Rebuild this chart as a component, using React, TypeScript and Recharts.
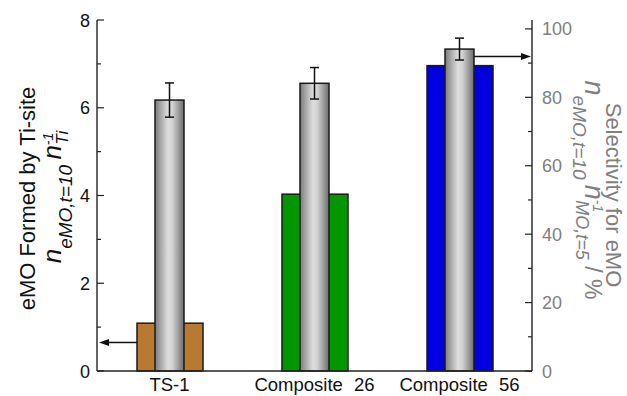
import React from 'react';
import { ComposedChart, Bar, XAxis, YAxis, ErrorBar } from 'recharts';

const categories = ['TS-1', 'Composite 26', 'Composite 56'];
const eMOPerTiSite = [1.09, 4.03, 6.96];
const selectivity = [79.2, 84.1, 94.1];
const selectivityError = [5.0, 4.6, 3.2];
const barColors = ['#B77A30', '#009700', '#0000E2'];
const leftTicks = [0, 1, 2, 3, 4, 5, 6, 7, 8];
const leftMajorTicks = [0, 2, 4, 6, 8];
const rightTicks = [0, 10, 20, 30, 40, 50, 60, 70, 80, 90, 100];
const rightMajorTicks = [0, 20, 40, 60, 80, 100];
const leftArrowValue = 0.65;
const rightArrowValue = 91.9;

const FONT = "'Liberation Sans', Arial, Helvetica, sans-serif";
const GRAY_TEXT = '#808080';

const data = categories.map((c, i) => ({
  category: c,
  eMO: eMOPerTiSite[i],
  sel: selectivity[i],
  selErr: selectivityError[i],
  color: barColors[i],
}));

const LEFT_MARGIN = 7;
const RIGHT_MARGIN = 10;

const LeftTick = (props: any) => {
  const { x, y, payload } = props;
  const axisX = x + LEFT_MARGIN;
  const major = leftMajorTicks.includes(payload.value);
  return (
    <g>
      <line x1={axisX} x2={axisX + (major ? 7 : 4)} y1={y} y2={y} stroke="#222" strokeWidth={1.2} />
      {major && (
        <text x={x} y={y + 6.5} textAnchor="end" fontSize={18} fontFamily={FONT} fill="#111">
          {payload.value}
        </text>
      )}
    </g>
  );
};

const RightTick = (props: any) => {
  const { x, y, payload } = props;
  const axisX = x - RIGHT_MARGIN;
  const major = rightMajorTicks.includes(payload.value);
  return (
    <g>
      <line x1={axisX} x2={axisX - (major ? 7 : 4)} y1={y} y2={y} stroke="#222" strokeWidth={1.2} />
      {major && (
        <text x={x} y={y + 6.5} textAnchor="start" fontSize={18} fontFamily={FONT} fill={GRAY_TEXT}>
          {payload.value}
        </text>
      )}
    </g>
  );
};

const BottomTick = (props: any) => {
  const { x, y, payload } = props;
  return (
    <text x={x} y={y + 20} textAnchor="middle" fontSize={18.5} fontFamily={FONT} fill="#111" style={{ wordSpacing: '6px' }}>
      {payload.value}
    </text>
  );
};

const ColoredBar = (props: any) => {
  const { x, y, width, height, index, payload } = props;
  const fill = payload.color;
  let arrow = null;
  if (index === 0) {
    const ay = y + height - height * (leftArrowValue / payload.eMO);
    const len = 38;
    arrow = (
      <g>
        <line x1={x} x2={x - len + 9} y1={ay} y2={ay} stroke="#111" strokeWidth={1.5} />
        <polygon points={`${x - len},${ay} ${x - len + 10},${ay - 3.5} ${x - len + 10},${ay + 3.5}`} fill="#111" />
      </g>
    );
  }
  return (
    <g>
      <rect x={x} y={y} width={width} height={height} fill={fill} stroke="#1a1a1a" strokeWidth={1.5} />
      {arrow}
    </g>
  );
};

const GrayBar = (props: any) => {
  const { x, y, width, height, index, payload } = props;
  const gid = `grayGrad${index}`;
  let arrow = null;
  if (index === 2) {
    const ay = y + height - height * (rightArrowValue / payload.sel);
    const x0 = x + width;
    const len = 57;
    arrow = (
      <g>
        <line x1={x0} x2={x0 + len - 9} y1={ay} y2={ay} stroke="#111" strokeWidth={1.5} />
        <polygon points={`${x0 + len},${ay} ${x0 + len - 10},${ay - 3.5} ${x0 + len - 10},${ay + 3.5}`} fill="#111" />
      </g>
    );
  }
  return (
    <g>
      <defs>
        <linearGradient id={gid} x1="0" y1="0" x2="1" y2="0">
          <stop offset="0%" stopColor="#7c7c7c" />
          <stop offset="45%" stopColor="#dedede" />
          <stop offset="60%" stopColor="#d2d2d2" />
          <stop offset="100%" stopColor="#6c6c6c" />
        </linearGradient>
      </defs>
      <rect x={x} y={y} width={width} height={height} fill={`url(#${gid})`} stroke="#1a1a1a" strokeWidth={1.5} />
      {arrow}
    </g>
  );
};

const Titles = () => (
  <svg width={627} height={396} style={{ position: 'absolute', left: 0, top: 0, pointerEvents: 'none' }}>
    <text transform="translate(35,198.5) rotate(-90)" textAnchor="middle" fontSize={22} fontFamily={FONT} fill="#111">
      eMO Formed by Ti-site
    </text>
    <text transform="translate(61,197) rotate(-90)" textAnchor="middle" fontFamily={FONT} fill="#111" fontStyle="italic">
      <tspan fontSize={26}>n</tspan>
      <tspan fontSize={19} dy={11}>eMO,t=10</tspan>
      <tspan fontSize={19} dy={-11}> </tspan>
      <tspan fontSize={26}>n</tspan>
      <tspan fontSize={14} dy={-8}>-1</tspan>
      <tspan fontSize={17} dx={-12} dy={15}>Ti</tspan>
    </text>
    <text transform="translate(606,195) rotate(90)" textAnchor="middle" fontSize={22} fontFamily={FONT} fill={GRAY_TEXT}>
      Selectivity for eMO
    </text>
    <text transform="translate(585,190) rotate(90)" textAnchor="middle" fontFamily={FONT} fill={GRAY_TEXT} fontStyle="italic">
      <tspan fontSize={27}>n</tspan>
      <tspan fontSize={19} dy={12}>eMO,t=10</tspan>
      <tspan fontSize={19} dy={-12}> </tspan>
      <tspan fontSize={27}>n</tspan>
      <tspan fontSize={14} dy={-8}>-1</tspan>
      <tspan fontSize={18} dx={-12} dy={17}>MO,t=5</tspan>
      <tspan fontSize={23} dy={-9} fontStyle="normal"> / %</tspan>
    </text>
  </svg>
);

export default function App() {
  return (
    <div style={{ position: 'absolute', left: 0, top: 0, width: 627, height: 396, background: '#fff' }}>
      <ComposedChart width={627} height={396} data={data} margin={{ top: 20, right: 0, bottom: 0, left: 0 }}>
        <XAxis
          xAxisId="a"
          dataKey="category"
          height={25}
          interval={0}
          tickLine={false}
          tickSize={0}
          tickMargin={0}
          tick={<BottomTick />}
          axisLine={{ stroke: '#222', strokeWidth: 1.4 }}
        />
        <XAxis
          xAxisId="b"
          dataKey="category"
          orientation="top"
          height={0}
          tick={false}
          tickLine={false}
          axisLine={{ stroke: '#222', strokeWidth: 1.4 }}
        />
        <YAxis
          yAxisId="l"
          orientation="left"
          width={97}
          domain={[0, 8]}
          ticks={leftTicks}
          interval={0}
          tickLine={false}
          tickSize={0}
          tickMargin={LEFT_MARGIN}
          tick={<LeftTick />}
          axisLine={{ stroke: '#222', strokeWidth: 1.4 }}
        />
        <YAxis
          yAxisId="r"
          orientation="right"
          width={95}
          domain={[0, 102.6]}
          allowDataOverflow
          ticks={rightTicks}
          interval={0}
          tickLine={false}
          tickSize={0}
          tickMargin={RIGHT_MARGIN}
          tick={<RightTick />}
          axisLine={{ stroke: '#222', strokeWidth: 1.4 }}
        />
        <Bar xAxisId="a" yAxisId="l" dataKey="eMO" barSize={66} shape={<ColoredBar />} isAnimationActive={false} />
        <Bar xAxisId="b" yAxisId="r" dataKey="sel" barSize={29} shape={<GrayBar />} isAnimationActive={false}>
          <ErrorBar dataKey="selErr" width={4.5} strokeWidth={1.5} stroke="#111" direction="y" />
        </Bar>
      </ComposedChart>
      <Titles />
    </div>
  );
}
